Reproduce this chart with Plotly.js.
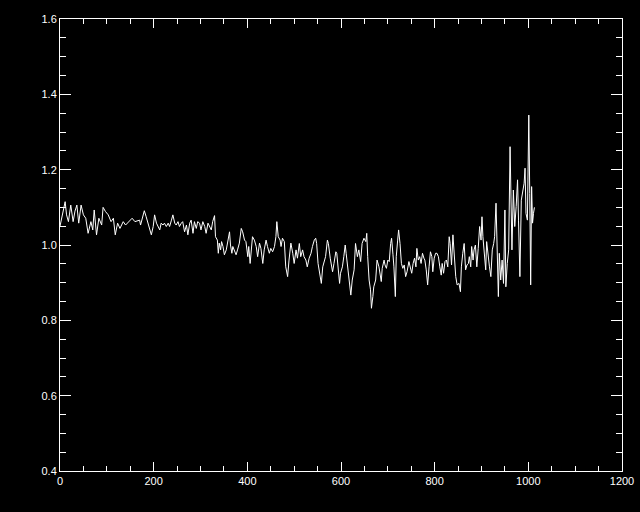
<!DOCTYPE html>
<html>
<head>
<meta charset="utf-8">
<script src="https://cdn.plot.ly/plotly-3.0.1.min.js"></script>
<style>
html,body{margin:0;padding:0;background:#000;}
#chart{width:640px;height:512px;}
</style>
</head>
<body>
<div id="chart"></div>
<script>
const xValues = [
  0, 5, 11, 14, 18, 23, 28, 32, 36, 40, 45, 50, 55, 60, 63, 66, 70, 73, 78, 83, 89, 92, 97, 103, 109, 114, 118, 123, 128, 135, 140, 147, 154, 160, 167,
  170, 172, 176, 180, 184, 188, 192, 195, 199, 202, 206, 209, 213, 216, 220, 223, 227, 231, 234, 238, 241, 245, 248, 252, 255, 259, 262, 266, 270, 273, 277, 280, 284, 287, 291, 294, 298, 301, 305, 309, 312, 316, 319, 323, 326, 330,
  332, 336, 338, 340, 343, 345, 348, 351, 355, 358, 362, 364, 367, 369, 372, 376, 379, 383, 387, 390, 394, 397, 401, 403, 406, 409, 411, 415, 419, 422, 426, 429, 433, 436, 440, 443, 447, 450, 454, 458, 461, 463, 466, 470, 472, 475, 479, 482, 486, 489, 493, 497, 500, 504, 507,
  511, 514, 518, 521, 525, 528, 532, 536, 539, 543, 546, 548, 551, 555, 558, 561, 564, 567, 571, 573, 577, 579, 582, 585, 589, 591, 594, 597, 599, 603, 606, 609, 611, 615, 618, 621, 624, 628, 631, 635, 638, 642, 645, 649, 653, 655, 657, 660, 663, 665, 668, 670, 674, 677, 681,
  683, 686, 688, 692, 694, 697, 700, 703, 706, 708, 711, 713, 716, 718, 721, 723, 726, 729, 732, 735, 738, 741, 745, 748, 751, 754, 757, 760, 762, 765, 768, 771, 774, 777, 779, 782, 785, 788, 791, 794, 796, 799, 802, 805, 808, 811, 814, 816, 819, 822, 825, 828, 831, 833, 836, 839, 842, 845, 848,
  852, 855, 857, 860, 863, 866, 869, 872, 874, 877, 879, 882, 884, 887, 890, 893, 896, 899, 901, 903, 906, 909, 911, 914, 917, 920, 923, 926, 928, 931, 934, 936, 938, 941, 944, 947, 950, 952, 955, 958, 961, 963, 965, 968, 971, 974, 977, 979, 982, 985, 988, 991, 993, 995, 998, 1001, 1003, 1005, 1007, 1009, 1011, 1013
];
const yValues = [
  1.050, 1.080, 1.115, 1.080, 1.062, 1.106, 1.062, 1.090, 1.106, 1.058, 1.106, 1.080, 1.071, 1.031, 1.050, 1.062, 1.040, 1.093, 1.027, 1.071, 1.053, 1.100, 1.089, 1.080, 1.062, 1.071, 1.027, 1.058, 1.044, 1.062, 1.053, 1.062, 1.071, 1.062, 1.066,
  1.066, 1.053, 1.070, 1.091, 1.075, 1.058, 1.044, 1.027, 1.049, 1.080, 1.058, 1.049, 1.040, 1.058, 1.053, 1.058, 1.049, 1.058, 1.049, 1.066, 1.080, 1.058, 1.053, 1.062, 1.049, 1.058, 1.062, 1.035, 1.053, 1.027, 1.058, 1.066, 1.031, 1.062, 1.044, 1.062, 1.058, 1.040, 1.062, 1.049, 1.031, 1.058, 1.049, 1.040, 1.062, 1.078,
  1.022, 1.013, 0.978, 1.005, 0.987, 1.009, 0.996, 0.974, 0.987, 1.005, 1.035, 1.000, 0.978, 0.996, 0.987, 0.974, 0.987, 1.005, 1.044, 1.035, 1.013, 1.009, 0.969, 0.996, 0.951, 0.987, 1.022, 1.013, 0.996, 0.969, 1.005, 0.991, 0.951, 0.987, 1.013, 0.996, 0.978, 0.991, 0.982, 0.996, 1.022, 1.062, 1.022, 1.013, 0.996, 1.018, 1.009, 0.942, 0.916, 0.960, 1.005, 0.978, 0.951, 0.987, 0.965,
  1.004, 0.969, 0.987, 0.969, 0.960, 0.942, 0.965, 0.978, 0.996, 1.013, 1.018, 1.004, 0.951, 0.925, 0.898, 0.942, 0.960, 0.969, 1.013, 1.004, 0.965, 0.947, 0.929, 0.951, 0.982, 0.978, 0.934, 0.898, 0.925, 0.942, 0.969, 1.000, 0.978, 0.934, 0.889, 0.867, 0.907, 0.934, 1.004, 0.969, 0.987, 0.956, 1.004, 1.018, 1.009, 1.031, 0.969, 0.907, 0.881, 0.832, 0.863, 0.889, 0.907, 0.960, 0.942,
  0.929, 0.903, 0.938, 0.960, 0.947, 0.938, 0.960, 0.956, 1.004, 1.018, 0.974, 0.942, 0.863, 0.969, 1.013, 1.040, 1.004, 0.951, 0.938, 0.947, 0.916, 0.929, 0.956, 0.942, 0.925, 0.951, 0.965, 0.942, 0.991, 0.960, 0.969, 0.951, 0.978, 0.965, 0.960, 0.934, 0.894, 0.942, 0.982, 0.969, 0.929, 0.965, 0.978, 0.978, 0.969, 0.942, 0.920, 0.951, 0.925, 0.956, 0.960, 0.942, 1.022, 1.004, 0.947, 1.027, 0.951, 0.916, 0.894,
  0.898, 0.876, 0.942, 0.978, 1.004, 0.934, 0.947, 0.951, 0.969, 0.942, 0.996, 0.960, 0.987, 1.000, 0.942, 0.991, 1.049, 1.013, 1.075, 1.022, 0.978, 0.934, 1.009, 0.969, 0.942, 0.916, 0.987, 1.004, 1.022, 1.111, 0.978, 0.863, 0.978, 0.907, 0.960, 0.898, 1.093, 0.889, 0.951, 0.987, 1.261, 1.128, 0.987, 1.146, 1.049, 1.102, 1.173, 1.066, 0.916, 1.119, 1.146, 1.164, 1.204, 1.084, 1.066, 1.345, 1.137, 0.894, 1.155, 1.058, 1.084, 1.100
];
const xTickVals = [0, 200, 400, 600, 800, 1000, 1200];
const yTickVals = [0.4, 0.6, 0.8, 1.0, 1.2, 1.4, 1.6];

const trace = {
  x: xValues,
  y: yValues,
  type: 'scatter',
  mode: 'lines',
  line: {color: '#ffffff', width: 1},
  hoverinfo: 'skip'
};

const axisCommon = {
  showgrid: false,
  zeroline: false,
  showline: true,
  linecolor: '#ffffff',
  linewidth: 1,
  mirror: 'ticks',
  ticks: 'inside',
  tickcolor: '#ffffff',
  tickwidth: 1,
  tickfont: {family: 'Liberation Sans, Arial, sans-serif', size: 11, color: '#ffffff'}
};

const layout = {
  width: 640,
  height: 512,
  paper_bgcolor: '#000000',
  plot_bgcolor: '#000000',
  showlegend: false,
  margin: {l: 60, r: 18, t: 19, b: 41, pad: 0},
  xaxis: Object.assign({}, axisCommon, {
    range: [0, 1200],
    tickmode: 'array',
    tickvals: xTickVals,
    ticktext: xTickVals.map(String),
    ticklen: 9,
    minor: {ticks: 'inside', dtick: 50, tick0: 0, ticklen: 5, tickcolor: '#ffffff', tickwidth: 1, showgrid: false}
  }),
  yaxis: Object.assign({}, axisCommon, {
    range: [0.4, 1.6],
    tickmode: 'array',
    tickvals: yTickVals,
    ticktext: yTickVals.map(v => v.toFixed(1)),
    ticklen: 11,
    minor: {ticks: 'inside', dtick: 0.05, tick0: 0.4, ticklen: 6, tickcolor: '#ffffff', tickwidth: 1, showgrid: false}
  })
};

Plotly.newPlot('chart', [trace], layout, {staticPlot: true, displayModeBar: false});
</script>
</body>
</html>
